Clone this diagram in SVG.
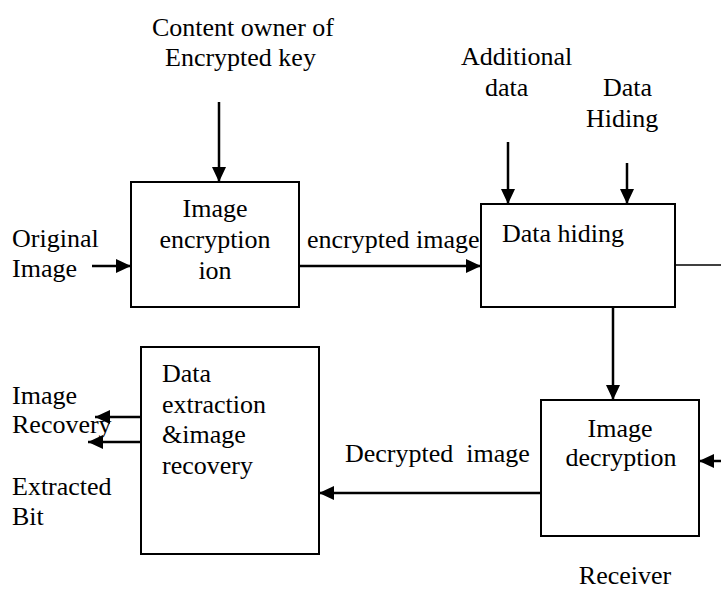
<svg xmlns="http://www.w3.org/2000/svg" width="721" height="589" viewBox="0 0 721 589" font-family="Liberation Serif, serif">
<style>
text{font-family:'DejaVu Serif',serif;font-size:26px;fill:#000;white-space:pre}
.t{font-family:'Liberation Serif',serif}
.box{fill:#fff;stroke:#000;stroke-width:2}
.c{stroke:#000;stroke-width:2.5;fill:none}
.m{text-anchor:middle}
</style>
<defs>
<marker id="ah" markerUnits="userSpaceOnUse" markerWidth="16" markerHeight="16" refX="15" refY="7" orient="auto">
<path d="M0,0 L15,7 L0,14 z" fill="#000"/>
</marker>
</defs>
<rect width="721" height="589" fill="#fff"/>
<g id="connectors">
<line class="c" x1="219" y1="102" x2="219" y2="182" marker-end="url(#ah)"/>
<line class="c" x1="92" y1="266" x2="131" y2="266" marker-end="url(#ah)"/>
<line class="c" x1="299" y1="266" x2="481" y2="266" marker-end="url(#ah)"/>
<line class="c" x1="508" y1="142" x2="508" y2="204" marker-end="url(#ah)"/>
<line class="c" x1="627" y1="163" x2="627" y2="204" marker-end="url(#ah)"/>
<line stroke="#000" stroke-width="1.5" x1="675" y1="265" x2="721" y2="265"/>
<line class="c" x1="613" y1="307" x2="613" y2="400" marker-end="url(#ah)"/>
<line class="c" x1="721" y1="461" x2="699" y2="461" marker-end="url(#ah)"/>
<line class="c" x1="541" y1="493" x2="319" y2="493" marker-end="url(#ah)"/>
<line class="c" x1="141" y1="417" x2="95" y2="417" marker-end="url(#ah)"/>
<line class="c" x1="141" y1="442" x2="88" y2="442" marker-end="url(#ah)"/>
</g>
<g id="labels">
<text class="t" x="152" y="36">Content owner of</text>
<text class="t" x="165" y="66">Encrypted key</text>
<text class="t" x="12" y="247">Original</text>
<text class="t" x="12" y="277">Image</text>
<text class="t" x="307" y="248">encrypted image</text>
<text class="t" x="461" y="65">Additional</text>
<text class="t" x="485" y="96">data</text>
<text class="t" x="603" y="96">Data</text>
<text class="t" x="586" y="127">Hiding</text>
<text class="t" x="345" y="462">Decrypted  image</text>
<text class="t" x="12" y="404">Image</text>
<text class="t" x="12" y="433">Recovery</text>
<text class="t" x="12" y="495">Extracted</text>
<text class="t" x="12" y="525">Bit</text>
<text class="t m" x="625" y="584">Receiver</text>
</g>
<g id="image-encryption">
<rect class="box" x="131" y="182" width="168" height="125"/>
<text class="t m" x="215" y="217">Image</text>
<text class="t m" x="215" y="248">encryption</text>
<text class="t m" x="215" y="279">ion</text>
</g>
<g id="data-hiding">
<rect class="box" x="481" y="204" width="194" height="103"/>
<text class="t" x="502" y="242">Data hiding</text>
</g>
<g id="image-decryption">
<rect class="box" x="541" y="400" width="158" height="136"/>
<text class="t m" x="620" y="437">Image</text>
<text class="t m" x="621" y="466">decryption</text>
</g>
<g id="data-extraction">
<rect class="box" x="141" y="347" width="178" height="207"/>
<text class="t" x="162" y="382">Data</text>
<text class="t" x="162" y="413">extraction</text>
<text class="t" x="162" y="443">&amp;image</text>
<text class="t" x="162" y="474">recovery</text>
</g>
</svg>
